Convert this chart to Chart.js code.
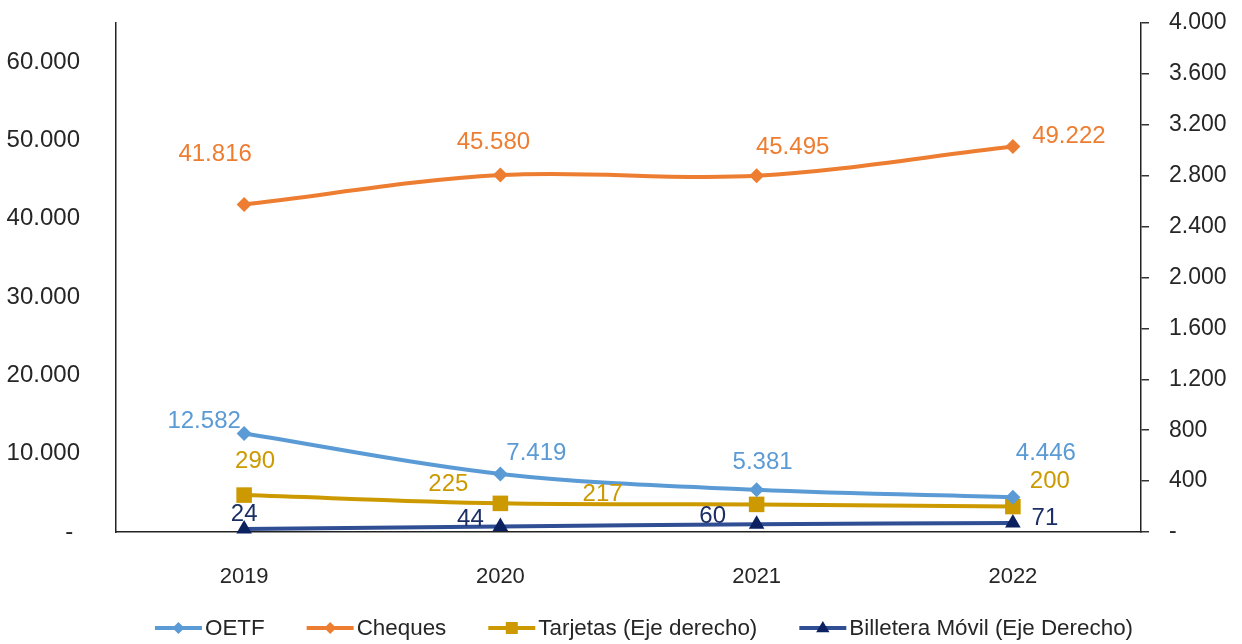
<!DOCTYPE html>
<html>
<head>
<meta charset="utf-8">
<script src="https://cdn.jsdelivr.net/npm/chart.js@4/dist/chart.umd.min.js"></script>
<style>
  html, body { margin: 0; padding: 0; background: #fff; }
  #wrap { width: 1242px; height: 644px; position: relative; }
</style>
</head>
<body>
<div id="wrap"><canvas id="c" width="1242" height="644"></canvas></div>
<script>
// ---- data ----
const categories = ['2019', '2020', '2021', '2022'];
const oetf = [12582, 7419, 5381, 4446];
const cheques = [41816, 45580, 45495, 49222];
const tarjetas = [290, 225, 217, 200];
const billetera = [24, 44, 60, 71];
const seriesNames = ['OETF', 'Cheques', 'Tarjetas (Eje derecho)', 'Billetera Móvil (Eje Derecho)'];
const leftTicks = [0, 10000, 20000, 30000, 40000, 50000, 60000];

// ---- styles ----
const FONT = "'Liberation Sans', Arial, sans-serif";
const TEXT = '#262626';
const colOETF = '#5B9BD5';
const colCheques = '#ED7D31';
const colTarjetas = '#CC9A00';
const colBillLine = '#2F4E93';
const colBillMark = '#0B2160';
const colBillText = '#1B2F66';

// label offsets (dx, dy) relative to each point, in pixels
const labelOffsets = [
  [[-40, -12], [36, -21], [6, -27], [33, -44]],
  [[-29, -50], [-7, -33], [36, -28], [56, -10]],
  [[11, -34], [-52, -19], [-154, -10], [37, -25]],
  [[0, -15], [-30, -7], [-44, -8], [32, -5]]
];
const labelColors = [colOETF, colCheques, colTarjetas, colBillText];

function fmt(v) {
  if (v === 0) return '-';
  return String(v).replace(/\B(?=(\d{3})+(?!\d))/g, '.');
}

function drawMarker(ctx, style, x, y, r, color) {
  ctx.save();
  ctx.fillStyle = color;
  ctx.beginPath();
  if (style === 'rectRot') {
    ctx.moveTo(x, y - r); ctx.lineTo(x + r, y); ctx.lineTo(x, y + r); ctx.lineTo(x - r, y);
  } else if (style === 'rect') {
    ctx.rect(x - r, y - r, 2 * r, 2 * r);
  } else if (style === 'triangle') {
    ctx.moveTo(x, y - r); ctx.lineTo(x + r * 0.95, y + r * 0.6); ctx.lineTo(x - r * 0.95, y + r * 0.6);
  }
  ctx.closePath();
  ctx.fill();
  ctx.restore();
}

const dataLabelsPlugin = {
  id: 'dataLabels',
  afterDatasetsDraw(chart) {
    const ctx = chart.ctx;
    ctx.save();
    ctx.font = '24px ' + FONT;
    ctx.textAlign = 'center';
    ctx.textBaseline = 'middle';
    chart.data.datasets.forEach((ds, i) => {
      const meta = chart.getDatasetMeta(i);
      meta.data.forEach((pt, j) => {
        const off = labelOffsets[i][j];
        ctx.fillStyle = labelColors[i];
        ctx.fillText(fmt(ds.data[j]), pt.x + off[0], pt.y + off[1]);
      });
    });
    ctx.restore();
  }
};

const legendPlugin = {
  id: 'customLegend',
  afterDraw(chart) {
    const ctx = chart.ctx;
    ctx.save();
    ctx.font = '22.4px ' + FONT;
    const lineW = 47, gapText = 3, gapItem = 42;
    const items = chart.data.datasets.map(ds => ({
      ds, w: lineW + gapText + ctx.measureText(ds.label).width
    }));
    const total = items.reduce((s, it) => s + it.w, 0) + gapItem * (items.length - 1);
    let x = 644 - total / 2;
    const y = 628;
    items.forEach(it => {
      const ds = it.ds;
      ctx.strokeStyle = ds.borderColor;
      ctx.lineWidth = 4;
      ctx.beginPath();
      ctx.moveTo(x, y); ctx.lineTo(x + lineW, y);
      ctx.stroke();
      const r = ds.pointStyle === 'rect' ? 6 : (ds.pointStyle === 'triangle' ? 7 : 6);
      drawMarker(ctx, ds.pointStyle, x + lineW / 2, y, r, ds.pointBackgroundColor);
      ctx.fillStyle = TEXT;
      ctx.textAlign = 'left';
      ctx.textBaseline = 'middle';
      ctx.fillText(ds.label, x + lineW + gapText, y + 1);
      x += it.w + gapItem;
    });
    ctx.restore();
  }
};

const common = { borderWidth: 4, tension: 0.35, clip: false, pointBorderWidth: 0 };

function noPad(axis) {
  axis.paddingTop = 0; axis.paddingBottom = 0; axis.paddingLeft = 0; axis.paddingRight = 0;
}

new Chart(document.getElementById('c'), {
  type: 'line',
  data: {
    labels: categories,
    datasets: [
      Object.assign({ label: seriesNames[0], data: oetf, yAxisID: 'y', borderColor: colOETF,
        pointBackgroundColor: colOETF, pointBorderColor: colOETF, pointStyle: 'rectRot', pointRadius: 7.5 }, common),
      Object.assign({ label: seriesNames[1], data: cheques, yAxisID: 'y', borderColor: colCheques,
        pointBackgroundColor: colCheques, pointBorderColor: colCheques, pointStyle: 'rectRot', pointRadius: 7.5 }, common),
      Object.assign({ label: seriesNames[2], data: tarjetas, yAxisID: 'y1', borderColor: colTarjetas,
        pointBackgroundColor: colTarjetas, pointBorderColor: colTarjetas, pointStyle: 'rect', pointRadius: 11 }, common),
      Object.assign({ label: seriesNames[3], data: billetera, yAxisID: 'y1', borderColor: colBillLine,
        pointBackgroundColor: colBillMark, pointBorderColor: colBillMark, pointStyle: 'triangle', pointRadius: 9 }, common)
    ]
  },
  options: {
    responsive: false,
    animation: false,
    devicePixelRatio: 1,
    layout: { padding: { top: 23, left: 0, right: 0, bottom: 0 } },
    plugins: { legend: { display: false }, tooltip: { enabled: false } },
    scales: {
      x: {
        offset: true,
        grid: { display: false },
        border: { display: true, color: '#222', width: 1.5 },
        ticks: { color: TEXT, font: { family: FONT, size: 22 }, padding: 24, maxRotation: 0 },
        afterFit(axis) { axis.height = 112; noPad(axis); }
      },
      y: {
        position: 'left',
        min: 0, max: 65000,
        grid: { display: false },
        border: { display: true, color: '#222', width: 1.5 },
        afterBuildTicks(axis) { axis.ticks = leftTicks.map(v => ({ value: v })); },
        ticks: { color: TEXT, font: { family: FONT, size: 24 }, padding: 28,
          callback: v => v === 0 ? '- ' : fmt(v) },
        afterFit(axis) { axis.width = 116; noPad(axis); }
      },
      y1: {
        position: 'right',
        min: 0, max: 4000,
        grid: { display: true, drawOnChartArea: false, drawTicks: true, tickLength: 8, color: '#333', lineWidth: 1.5 },
        border: { display: true, color: '#222', width: 1.5 },
        ticks: { stepSize: 400, color: TEXT, font: { family: FONT, size: 23 }, padding: 20,
          callback: v => fmt(v) },
        afterFit(axis) { axis.width = 101; noPad(axis); }
      }
    }
  },
  plugins: [dataLabelsPlugin, legendPlugin]
});
</script>
</body>
</html>
